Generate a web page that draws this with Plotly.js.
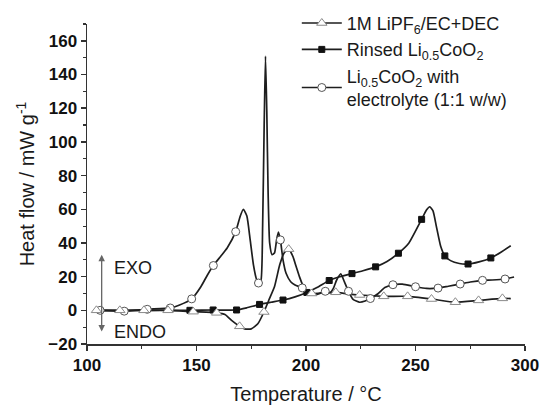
<!DOCTYPE html>
<html>
<head>
<meta charset="utf-8">
<script src="https://cdn.plot.ly/plotly-3.0.1.min.js"></script>
<style>html,body{margin:0;padding:0;background:#fff;}#chart{width:542px;height:405px;}</style>
</head>
<body>
<div id="chart"></div>
<script>
// Series 1: 1M LiPF6/EC+DEC (triangles)
const tempLiPF6 = [104.3,115,126,137,148.5,159.2,163,166,169.7,172,175,178,180.8,183,185.6,188,190,192.1,194,195.5,197,198.5,200,202.6,208,213.6,219,224.5,235.5,246.4,257.3,268.2,278.8,289.7,293.5];
const heatLiPF6 = [0,0,0,0,-0.8,-1.5,-2.5,-6,-9.5,-11,-11,-8,-1,6,14,27,34,36.3,32,26,20,15,11,10,10.3,10.7,9.8,9.1,8.3,8.3,6.7,4.8,5.9,7.1,7];
const markTempLiPF6 = [104.3,115,126,137,148.5,159.2,169.7,180.8,192.1,202.6,213.6,224.5,235.5,246.4,257.3,268.2,278.8,289.7];
const markHeatLiPF6 = [0,0,0,0,-0.8,-1.5,-9.5,-1,36.3,10,10.7,9.1,8.3,8.3,6.7,4.8,5.9,7.1];

// Series 2: Rinsed Li0.5CoO2 (filled squares)
const tempRinsed = [104,115,126,136,147,157.6,168.3,173,178.8,184,189.5,195,200.4,205,210.6,215,221,226,231.8,237,242.2,247,252.8,255,256.5,258,259.5,261.5,263.4,266,270,274,279,284.4,289,293.5];
const heatRinsed = [0,0,0,0,0,0.2,0.2,1.5,3.5,4.8,6.1,8,10.6,13.5,17.7,19.8,21.8,23.5,25.8,29,33.9,40,54,59.5,61.5,59,50,38,32.3,29.5,27.8,27.5,28.8,31.1,34.5,38.3];
const markTempRinsed = [147,157.6,168.3,178.8,189.5,200.4,210.6,221,231.8,242.2,252.8,263.4,274,284.4];
const markHeatRinsed = [0,0.2,0.2,3.5,6.1,10.6,17.7,21.8,25.8,33.9,54,32.3,27.5,31.1];

// Series 3: Li0.5CoO2 with electrolyte (open circles)
const tempMix = [104,106,117,127.5,138,142,147.8,152,155,157.7,161,164,167.9,170,171.4,173,174.5,176,177.5,178.3,179.4,180.2,180.9,181.5,182.1,182.7,183.4,184.5,185.6,186.6,187.4,188.3,189.5,190.9,193,195,198.3,201,205,208.8,211,212.5,214,215.9,217.5,219.4,221.5,224.5,227,229.4,233,236,239.7,244,250,255,260.3,265,270.4,275,280.6,285,290.9,295];
const heatMix = [0,0,-0.5,0.6,1.4,3,6.8,14,21,26.6,32,37,46.7,56,60,56,42,27,18,16.2,17.5,50,110,151,118,70,40,33,34,42,46.5,41.8,30,22,17,15,13.3,10.5,9.5,11.3,10.5,13,18,21.7,17,11.3,6.5,4.8,5.5,7,10,13.5,15.2,15.5,14,13,13.2,14.3,15.6,16.8,17.8,18,18.6,19.8];
const markTempMix = [106,117,127.5,138,147.8,157.7,167.9,178.3,188.3,198.3,208.8,219.4,229.4,239.7,250,260.3,270.4,280.6,290.9];
const markHeatMix = [0,-0.5,0.6,1.4,6.8,26.6,46.7,16.2,41.8,13.3,11.3,11.3,7,15.2,14,13.2,15.6,17.8,18.6];

const seriesNames = ['1M LiPF<sub>6</sub>/EC+DEC', 'Rinsed Li<sub>0.5</sub>CoO<sub>2</sub>', 'Li<sub>0.5</sub>CoO<sub>2</sub> with<br>electrolyte (1:1 w/w)'];

const lineStyle = {color: '#1e1e1e', width: 1.7, shape: 'spline', smoothing: 0.5};
const mTri = {symbol: 'triangle-up', size: 9, color: '#ffffff', line: {color: '#8a8a8a', width: 1}};
const mSq = {symbol: 'square', size: 6, color: '#111111', line: {color: '#111111', width: 1}};
const mCir = {symbol: 'circle', size: 8, color: '#ffffff', line: {color: '#555555', width: 1}};

const traces = [
  {x: tempRinsed, y: heatRinsed, mode: 'lines', line: lineStyle, showlegend: false, hoverinfo: 'skip'},
  {x: tempLiPF6, y: heatLiPF6, mode: 'lines', line: lineStyle, showlegend: false, hoverinfo: 'skip'},
  {x: tempMix, y: heatMix, mode: 'lines', line: lineStyle, showlegend: false, hoverinfo: 'skip'},
  {x: markTempRinsed, y: markHeatRinsed, mode: 'markers', marker: mSq, showlegend: false},
  {x: markTempMix, y: markHeatMix, mode: 'markers', marker: mCir, showlegend: false},
  {x: markTempLiPF6, y: markHeatLiPF6, mode: 'markers', marker: mTri, showlegend: false},
  // legend entries (no data)
  {x: [null], y: [null], mode: 'lines+markers', name: seriesNames[0], legendgroup: 'a', line: {color: '#1e1e1e', width: 1.6}, marker: mTri},
  {x: [null], y: [null], mode: 'lines+markers', name: seriesNames[1], legendgroup: 'b', line: {color: '#1e1e1e', width: 1.6}, marker: mSq},
  {x: [null], y: [null], mode: 'lines+markers', name: seriesNames[2], legendgroup: 'c', line: {color: '#1e1e1e', width: 1.6}, marker: mCir}
];

const fontFam = 'Liberation Sans, Arial, Helvetica, sans-serif';
const axisCommon = {
  showline: true, linecolor: '#333', linewidth: 1.5,
  ticks: 'outside', ticklen: 5, tickwidth: 1.5, tickcolor: '#333',
  showgrid: false, zeroline: false,
  tickfont: {family: fontFam, size: 17, color: '#111', weight: 'bold'},
  minor: {ticks: 'outside', ticklen: 3, tickwidth: 1.2, tickcolor: '#333', showgrid: false}
};

const layout = {
  width: 542, height: 405,
  margin: {l: 87, r: 17, t: 24, b: 61, autoexpand: false},
  paper_bgcolor: '#fff', plot_bgcolor: '#fff',
  font: {family: fontFam, color: '#1a1a1a'},
  xaxis: Object.assign({}, axisCommon, {
    range: [100, 300], dtick: 50, tick0: 100,
    minor: Object.assign({}, axisCommon.minor, {dtick: 25}),
    title: {text: 'Temperature / \u00B0C', font: {family: fontFam, size: 20, color: '#1a1a1a'}, standoff: 16}
  }),
  yaxis: Object.assign({}, axisCommon, {
    range: [-20, 170], dtick: 20, tick0: 0,
    minor: Object.assign({}, axisCommon.minor, {dtick: 10}),
    title: {text: 'Heat flow / mW g<sup>-1</sup>\u00A0\u00A0\u00A0', font: {family: fontFam, size: 20, color: '#1a1a1a'}, standoff: 8}
  }),
  legend: {
    x: 0.479, y: 1.06, xanchor: 'left', yanchor: 'top',
    bgcolor: 'rgba(0,0,0,0)', font: {family: fontFam, size: 18, color: '#1a1a1a'},
    tracegroupgap: 0, itemwidth: 40
  },
  annotations: [
    {x: 106.7, y: 33, ax: 106.7, ay: -17.6, xref: 'x', yref: 'y', axref: 'x', ayref: 'y',
     text: ' ', showarrow: true, arrowside: 'end+start', arrowhead: 2, arrowsize: 1, arrowwidth: 1.3, arrowcolor: '#666'},
    {x: 111.5, y: 25.4, xref: 'x', yref: 'y', text: 'EXO', showarrow: false, xanchor: 'left', yanchor: 'middle',
     font: {family: fontFam, size: 18, color: '#1a1a1a'}},
    {x: 111.5, y: -12.7, xref: 'x', yref: 'y', text: 'ENDO', showarrow: false, xanchor: 'left', yanchor: 'middle',
     font: {family: fontFam, size: 18, color: '#1a1a1a'}}
  ]
};

Plotly.newPlot('chart', traces, layout, {staticPlot: true, displayModeBar: false});
</script>
</body>
</html>
